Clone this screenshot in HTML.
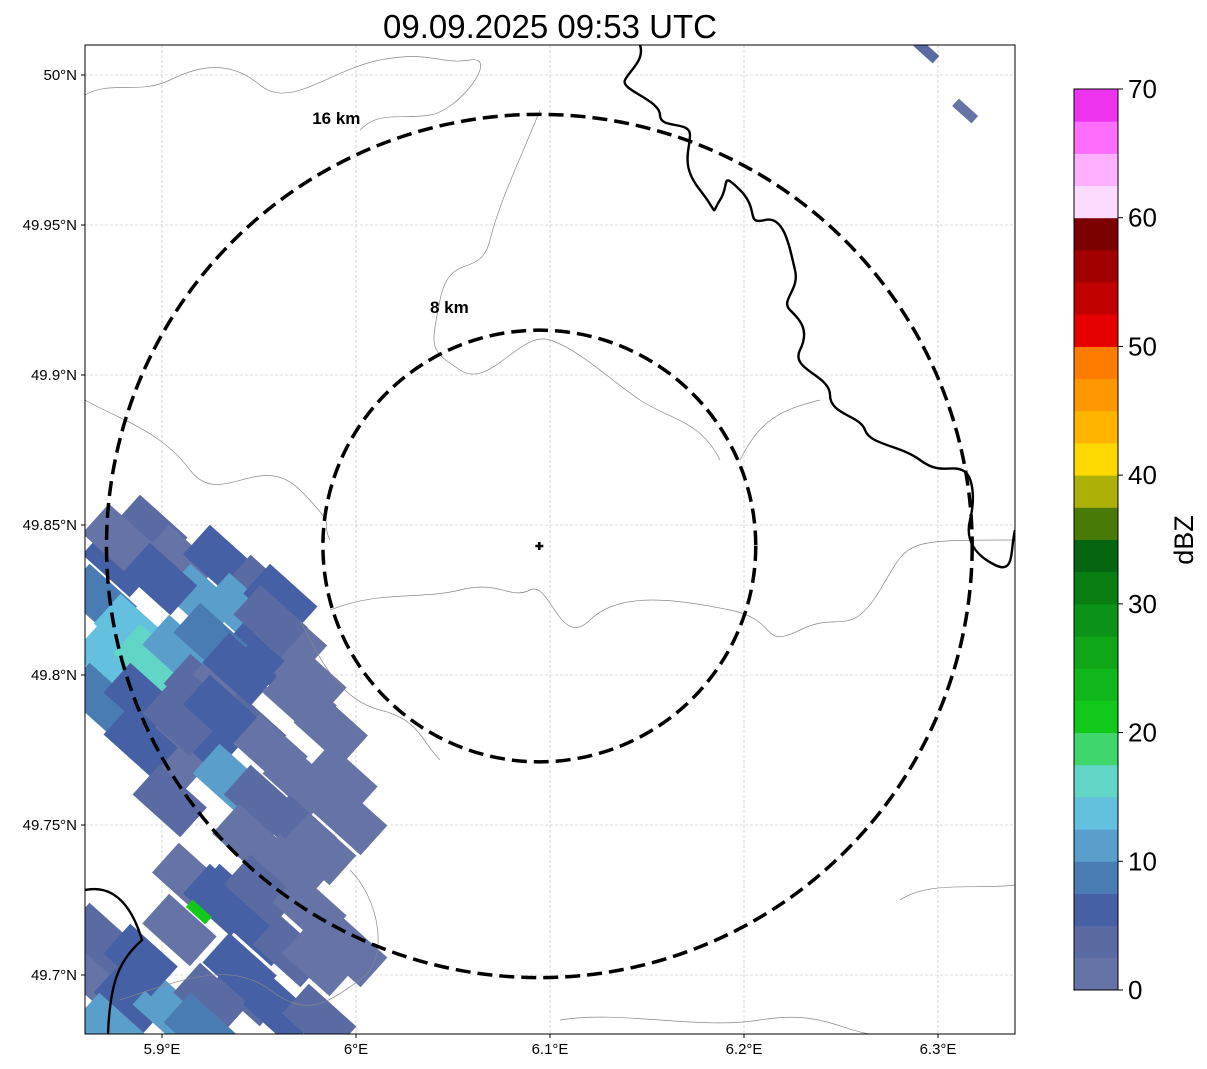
<!DOCTYPE html>
<html><head><meta charset="utf-8"><style>
html,body{margin:0;padding:0;background:#fff}
svg{display:block;font-family:"Liberation Sans",sans-serif}
</style></head><body>
<svg id="chart" width="1207" height="1069" viewBox="0 0 1207 1069" xmlns="http://www.w3.org/2000/svg">
<defs><clipPath id="clip"><rect x="85" y="45" width="930" height="989"/></clipPath></defs>
<text x="550" y="38" font-size="33" text-anchor="middle">09.09.2025 09:53 UTC</text>
<g id="plot" clip-path="url(#clip)"></g>
<rect x="85" y="45" width="930" height="989" fill="none" stroke="#000" stroke-width="1"/>
<g id="axes"></g>
<g id="cbar"></g>
</svg>
<script>
const lonTicks=[5.9,6.0,6.1,6.2,6.3];
const lonLabels=["5.9°E","6°E","6.1°E","6.2°E","6.3°E"];
const latTicks=[50,49.95,49.9,49.85,49.8,49.75,49.7];
const latLabels=["50°N","49.95°N","49.9°N","49.85°N","49.8°N","49.75°N","49.7°N"];
const cbLevels=[0,10,20,30,40,50,60,70];
const cbColors=["#6673a6","#5a6aa3","#4660a5","#4a7cb4","#5a9fcb","#63c0df","#62d6c6","#3fd66c","#10c91b","#10b71a","#0ea516","#0b9317","#087e12","#066510","#487a08","#adb006","#ffd800","#ffb400","#ff9800","#ff7c00","#e60000","#c30000","#a20000","#7b0000","#fddaff","#ffb1ff","#ff6dfd","#ef34ef"];
const radarLon=6.0945, radarLat=49.843;
const ringKm=[8,16];
const cellLon=[5.894,5.909,5.930,5.951,5.920,5.940,5.961,5.878,5.868,5.884,5.873,5.894,5.909,5.868,5.889,5.920,5.935,5.951,5.966,5.971,5.987,5.945,5.920,5.904,5.935,5.951,5.971,5.992,5.997,5.971,5.981,5.914,5.935,5.951,5.966,5.981,5.997,5.868,5.884,5.904,5.925,5.945,5.961,5.981,5.873,5.920,5.878,5.899,5.925,5.956,5.976,5.940,5.909,5.930,5.956,5.889,5.904,5.945,5.966,5.940,5.868,5.889,5.909,5.930,5.951,5.976];
const cellLat=[49.848,49.838,49.838,49.828,49.825,49.822,49.825,49.838,49.825,49.815,49.805,49.805,49.808,49.792,49.792,49.795,49.798,49.808,49.812,49.792,49.782,49.782,49.778,49.772,49.765,49.758,49.765,49.765,49.752,49.748,49.742,49.732,49.725,49.715,49.708,49.705,49.708,49.698,49.692,49.688,49.692,49.695,49.688,49.685,49.682,49.682,49.845,49.832,49.812,49.818,49.798,49.802,49.785,49.788,49.775,49.778,49.758,49.745,49.735,49.702,49.712,49.705,49.715,49.725,49.728,49.722];
const cellDbz=[4,2,6,4,10,11,6,5,9,13,14,16,12,8,6,4,2,5,1,2,1,3,5,2,12,4,1,2,1,3,2,2,6,5,3,1,2,2,6,10,4,3,6,4,12,8,2,6,9,3,1,7,4,6,2,5,3,2,1,5,4,7,2,6,3,1];
const smallLon=[6.294,6.314,5.919];
const smallLat=[50.008,49.988,49.721];
const smallDbz=[3,2,22];
const ringLabelDx=[-90,-203];
const ringLabelDy=[-239,-428];

const NS='http://www.w3.org/2000/svg';
const X0=85,X1=1015,Y0=45,Y1=1034;
const pxPerLon=1940, pxPerLat=3000;
function xS(lon){return 162+(lon-5.9)*pxPerLon;}
function yS(lat){return 75+(50-lat)*pxPerLat;}
function mk(tag,attrs,parent){const e=document.createElementNS(NS,tag);for(const k in attrs)e.setAttribute(k,attrs[k]);parent.appendChild(e);return e;}
function colorFor(v){return cbColors[Math.max(0,Math.min(cbColors.length-1,Math.floor(v/2.5)))];}
const plot=document.getElementById('plot'),axes=document.getElementById('axes'),cbar=document.getElementById('cbar');

lonTicks.forEach((t,i)=>{const l=mk('line',{x1:xS(t),x2:xS(t),y1:Y0,y2:Y1,stroke:'#bbb','stroke-width':0.6,'stroke-dasharray':'3,2'},plot);
});
latTicks.forEach((t,i)=>{const l=mk('line',{x1:X0,x2:X1,y1:yS(t),y2:yS(t),stroke:'#bbb','stroke-width':0.6,'stroke-dasharray':'3,2'},plot);
});

cellLon.forEach((lon,i)=>{const cx=xS(lon),cy=yS(cellLat[i]);
const r=mk('rect',{x:cx-32,y:cy-20,width:64,height:40,fill:colorFor(cellDbz[i]),transform:`rotate(42 ${cx} ${cy})`},plot);
});
smallLon.forEach((lon,i)=>{const cx=xS(lon),cy=yS(smallLat[i]);
const r=mk('rect',{x:cx-13,y:cy-5,width:26,height:10,fill:colorFor(smallDbz[i]),transform:`rotate(42 ${cx} ${cy})`},plot);
});

const gray=["M85,95 C110,80 140,95 170,80 S230,60 260,85 S330,70 380,60 S440,65 470,60 S460,110 430,115 S380,110 360,130",
"M540,110 C520,160 500,200 490,240 S450,250 440,300 S430,350 460,370 S520,330 550,340 S610,380 640,400 S700,420 720,460",
"M85,400 C120,420 160,430 190,470 S260,450 300,490 S320,520 330,540",
"M330,610 C380,590 420,600 460,590 S510,600 530,590 S560,650 590,620 S680,600 730,610 S760,650 800,630 S850,640 880,590 S900,540 1015,540",
"M300,620 C320,660 340,700 380,710 S420,740 440,760",
"M820,400 C780,410 760,420 740,460 M900,900 C930,880 980,890 1015,885",
"M120,1000 C180,980 230,960 270,990 S330,1000 360,980 S380,900 350,870",
"M560,1020 C620,1010 700,1030 760,1020 S840,1030 870,1034"];
gray.forEach(d=>{const p=mk('path',{d:d,fill:'none',stroke:'#888','stroke-width':0.7},plot);});
const black=["M640,45 C645,60 630,70 625,80 S660,100 660,115 S690,120 690,135 S680,165 700,190 S710,215 720,200 S720,170 740,190 S745,225 765,220 S790,250 795,270 S780,300 790,310 S810,330 800,350 S830,375 830,395 S860,415 865,430 S900,445 920,460 S950,465 962,470 S975,500 970,520 S975,555 995,565 S1010,550 1015,530",
"M85,890 C110,885 130,900 142,940 C120,960 110,980 108,1034"];
black.forEach(d=>{const p=mk('path',{d:d,fill:'none',stroke:'#000','stroke-width':2.4},plot);});

const kmPerDegLat=111.2;
const cx0=xS(radarLon),cy0=yS(radarLat);
ringKm.forEach((km,i)=>{const ry=km/kmPerDegLat*pxPerLat;const rx=km/(kmPerDegLat*Math.cos(radarLat*Math.PI/180))*pxPerLon;
const c=mk('ellipse',{cx:cx0,cy:cy0,rx:rx,ry:ry,fill:'none',stroke:'#000','stroke-width':3.5,'stroke-dasharray':'15,7'},plot);

const t=mk('text',{x:cx0+ringLabelDx[i],y:cy0+ringLabelDy[i]+6,'font-size':17,'font-weight':'bold','text-anchor':'middle'},plot);t.textContent=km+' km';
});
const plus=mk('path',{d:`M${cx0-4},${cy0}H${cx0+4}M${cx0},${cy0-4}V${cy0+4}`,stroke:'#000','stroke-width':2.5},plot);


lonTicks.forEach((t,i)=>{const x=xS(t);mk('line',{x1:x,x2:x,y1:Y1,y2:Y1+4,stroke:'#000'},axes);
const tx=mk('text',{x:x,y:Y1+20,'font-size':15,'text-anchor':'middle'},axes);tx.textContent=lonLabels[i];
});
latTicks.forEach((t,i)=>{const y=yS(t);mk('line',{x1:X0-4,x2:X0,y1:y,y2:y,stroke:'#000'},axes);
const tx=mk('text',{x:X0-8,y:y+5,'font-size':15,'text-anchor':'end'},axes);tx.textContent=latLabels[i];
});

const CB={x:1074,w:44,top:89,bot:990};
const cbH=(CB.bot-CB.top)/cbColors.length;
cbColors.forEach((c,i)=>{const r=mk('rect',{x:CB.x,y:CB.bot-(i+1)*cbH,width:CB.w,height:cbH+0.5,fill:c},cbar);
});
mk('rect',{x:CB.x,y:CB.top,width:CB.w,height:CB.bot-CB.top,fill:'none',stroke:'#000','stroke-width':1},cbar);
cbLevels.forEach(v=>{const y=CB.bot-(v/70)*(CB.bot-CB.top);mk('line',{x1:CB.x+CB.w,x2:CB.x+CB.w+5,y1:y,y2:y,stroke:'#000'},cbar);
const t=mk('text',{x:CB.x+CB.w+10,y:y+9,'font-size':26},cbar);t.textContent=v;
});
const lab=mk('text',{x:1193,y:540,'font-size':27,'text-anchor':'middle',transform:'rotate(-90 1193 540)'},cbar);lab.textContent='dBZ';

</script>
</body></html>
